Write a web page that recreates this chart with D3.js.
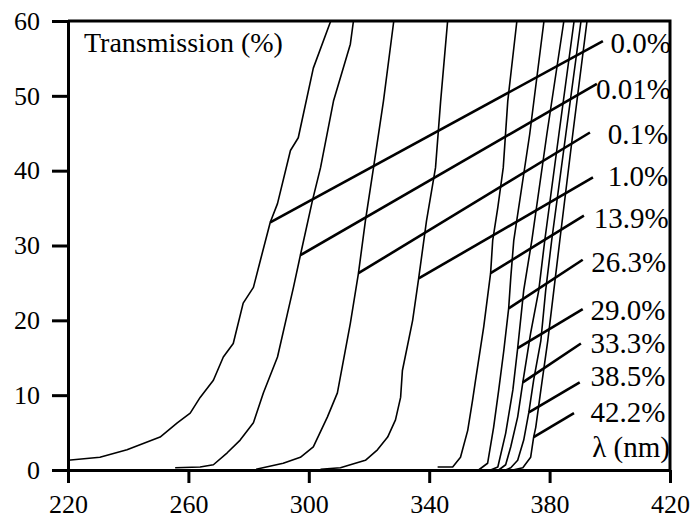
<!DOCTYPE html>
<html>
<head>
<meta charset="utf-8">
<script src="https://cdn.jsdelivr.net/npm/d3@7"></script>
<style>
  html, body { margin: 0; padding: 0; background: #fff; }
  svg { display: block; }
</style>
</head>
<body>
<svg id="chart" width="696" height="522"></svg>
<script>
// ---- Data (wavelength nm, transmission %) ----
const xTicks = [220, 260, 300, 340, 380, 420];
const yTicks = [0, 10, 20, 30, 40, 50, 60];
const seriesNames = ["0.0%", "0.01%", "0.1%", "1.0%", "13.9%", "26.3%", "29.0%", "33.3%", "38.5%", "42.2%"];

const c00 = [[220,1.3],[230.6,1.7],[239.6,2.7],[250.6,4.4],[256.3,6.3],[260.6,7.6],[263.9,9.7],[268.3,12.0],[271.6,15.1],[274.9,16.9],[278.2,22.3],[281.6,24.4],[283.9,28.0],[287.2,33.1],[289.6,35.6],[293.9,42.7],[296.5,44.4],[301.5,53.7],[307.2,59.9]];
const c001 = [[255.6,0.3],[263.9,0.4],[268.3,0.7],[272.9,2.3],[277.2,4.0],[281.6,6.3],[284.9,10.3],[289.6,15.1],[292.9,20.9],[294.9,24.4],[297.2,28.7],[301.2,36.0],[303.9,40.4],[308.2,49.3],[313.8,56.9],[314.8,59.9]];
const c01 = [[282.5,0.1],[291.5,0.9],[297.2,1.7],[301.5,3.1],[306.2,7.1],[309.5,10.3],[313.8,19.6],[316.5,26.3],[318.8,33.3],[321.5,40.4],[324.8,49.3],[328.2,59.9]];
const c10 = [[303.9,0.1],[310.5,0.3],[313.8,0.7],[318.8,1.3],[322.8,2.7],[326.2,4.4],[328.8,6.7],[330.5,9.7],[331.1,13.3],[334.5,20.0],[336.5,25.6],[339.1,33.3],[342.1,40.4],[343.8,49.3],[346.1,59.9]];
const c139 = [[342.8,0.4],[347.8,0.4],[350.4,1.7],[352.8,5.3],[354.4,9.3],[355.4,12.0],[358.1,19.1],[360.4,26.3],[361.1,30.7],[362.8,35.1],[364.6,40.4],[366.1,49.3],[369.1,59.9]];
const c263 = [[356.4,0.0],[359.4,0.9],[361.4,5.7],[363.1,10.7],[364.8,16.0],[366.4,21.6],[367.1,25.7],[368.1,30.7],[373.4,44.9],[378.1,59.9]];
const c290 = [[360.4,0.0],[362.8,0.4],[365.4,4.9],[367.8,10.7],[369.4,16.3],[371.4,24.0],[374.1,30.7],[379.1,44.9],[384.7,59.9]];
const c333 = [[363.1,0.0],[365.4,0.7],[367.1,3.1],[369.4,7.1],[371.1,11.7],[373.7,18.3],[376.4,24.0],[378.4,30.7],[383.1,44.9],[388.1,59.9]];
const c385 = [[365.4,0.0],[367.1,0.3],[369.4,1.3],[371.4,4.0],[373.1,7.7],[374.7,12.0],[377.1,17.3],[378.7,24.0],[380.7,30.7],[385.4,44.9],[390.4,59.9]];
const c422 = [[367.8,0.0],[371.1,0.3],[373.7,1.7],[374.7,4.4],[375.4,5.7],[377.1,10.7],[379.4,17.3],[381.4,24.0],[383.4,30.7],[387.7,44.9],[392.4,59.9]];
const curves = [c00, c001, c01, c10, c139, c263, c290, c333, c385, c422];

// leader lines: [start λ, start T, end λ, end T]
const leaders = [
  [287.2,33.1,397.7,57.3],[297.2,28.7,395.7,51.6],[316.5,26.3,393.4,45.1],[336.5,25.6,394.4,39.1],
  [360.4,26.3,391.4,34.0],[366.4,21.6,391.0,28.1],[369.4,16.3,391.0,21.5],[371.1,11.7,390.4,16.9],
  [373.1,7.7,390.0,11.7],[374.7,4.4,388.1,7.6]
];
// label anchors (right end λ, baseline T)
const labelX = [420.3, 420.3, 419.4, 419.4, 419.6, 418.7, 418.5, 418.5, 418.5, 418.5];
const labelY = [55.7, 49.6, 43.6, 38.0, 32.4, 26.4, 20.0, 15.7, 11.2, 6.4];

const yTitle = "Transmission (%)";
const xTitle = "λ (nm)";

// ---- Drawing ----
const FONT = "'Liberation Serif', 'Times New Roman', Tinos, 'DejaVu Serif', serif";
const svg = d3.select("#chart");
const x = d3.scaleLinear().domain([220, 420]).range([68, 670]);
const y = d3.scaleLinear().domain([0, 60]).range([470, 21]);

// frame (top + right)
svg.append("path")
  .attr("d", `M${x(220)},${y(60)}H${x(420)}V${y(0)}`)
  .attr("fill", "none").attr("stroke", "#000").attr("stroke-width", 3);

const yAxis = svg.append("g").attr("transform", `translate(${x(220)},0)`)
  .call(d3.axisLeft(y).tickValues(yTicks).tickSize(16).tickSizeOuter(0).tickPadding(12));
const xAxis = svg.append("g").attr("transform", `translate(0,${y(0)})`)
  .call(d3.axisBottom(x).tickValues(xTicks).tickSize(13).tickSizeOuter(0).tickPadding(11.5));

[yAxis, xAxis].forEach(g => {
  g.attr("font-family", FONT).attr("font-size", 26);
  g.selectAll("path.domain").attr("stroke", "#000").attr("stroke-width", 3);
  g.selectAll(".tick line").attr("stroke", "#000").attr("stroke-width", 3);
  g.selectAll(".tick text").attr("font-family", FONT).attr("font-size", 26).attr("fill", "#000");
});

// curves
const line = d3.line().x(d => x(d[0])).y(d => y(d[1]));
svg.append("g").selectAll("path").data(curves).join("path")
  .attr("d", line).attr("fill", "none").attr("stroke", "#000")
  .attr("stroke-width", 1.6).attr("stroke-linejoin", "round");

// leader lines
svg.append("g").selectAll("line").data(leaders).join("line")
  .attr("x1", d => x(d[0])).attr("y1", d => y(d[1]))
  .attr("x2", d => x(d[2])).attr("y2", d => y(d[3]))
  .attr("stroke", "#000").attr("stroke-width", 2.6);

// labels
svg.append("g").attr("font-family", FONT).attr("font-size", 29)
  .selectAll("text").data(seriesNames).join("text")
  .attr("x", (d, i) => x(labelX[i])).attr("y", (d, i) => y(labelY[i]))
  .attr("text-anchor", "end").attr("fill", "#000").text(d => d);

svg.append("text").attr("x", 84).attr("y", 52)
  .attr("font-family", FONT).attr("font-size", 28).attr("fill", "#000").text(yTitle);
svg.append("text").attr("x", x(420)).attr("y", y(1.7)).attr("text-anchor", "end")
  .attr("font-family", FONT).attr("font-size", 29).attr("fill", "#000").text(xTitle);
</script>
</body>
</html>
